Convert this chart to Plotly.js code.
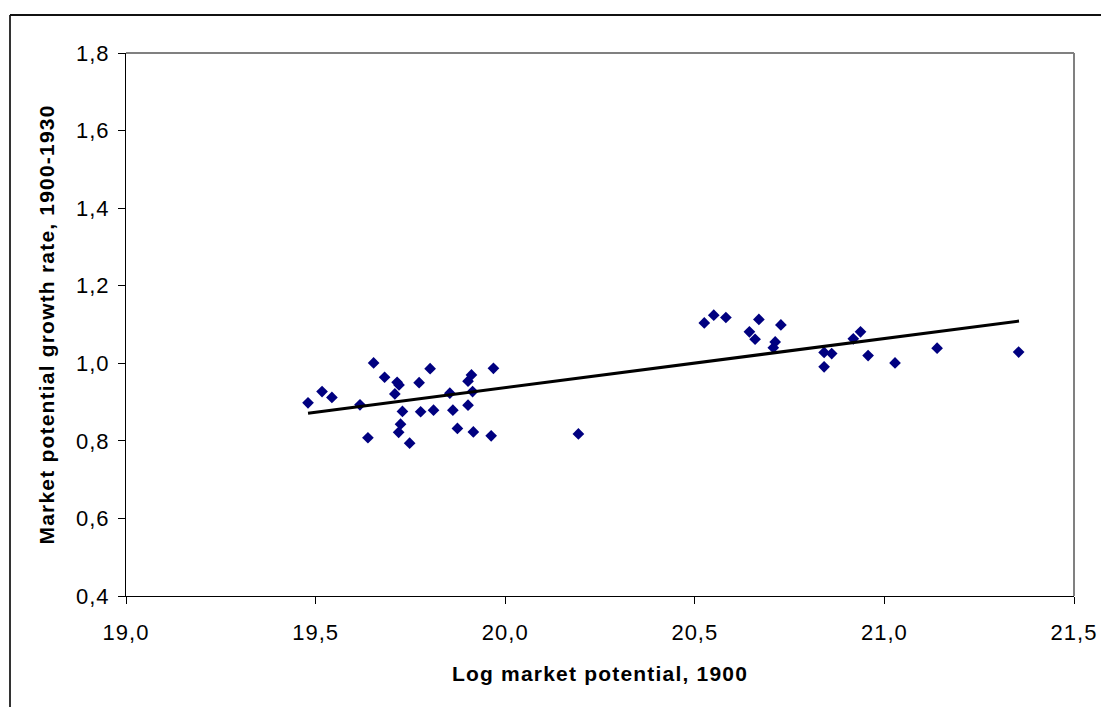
<!DOCTYPE html>
<html>
<head>
<meta charset="utf-8">
<script src="https://cdn.plot.ly/plotly-3.0.1.min.js"></script>
<style>
  html, body { margin: 0; padding: 0; background: #ffffff; }
  #chart { width: 1101px; height: 707px; }
  #chart .xtick text, #chart .ytick text { letter-spacing: 1px; }
  #chart text.xtitle, #chart text.ytitle { letter-spacing: 1.2px; }
</style>
</head>
<body>
<div id="chart"></div>
<script>
// Log market potential, 1900
const logMarketPotential = [
  19.480, 19.517, 19.543, 19.617, 19.653, 19.682, 19.638, 19.715, 19.720, 19.709,
  19.729, 19.724, 19.719, 19.748, 19.773, 19.802, 19.777, 19.811, 19.854, 19.862,
  19.874, 19.902, 19.911, 19.914, 19.902, 19.916, 19.963, 19.969, 20.193, 20.525,
  20.550, 20.582, 20.669, 20.727, 20.644, 20.659, 20.712, 20.707, 20.841, 20.861,
  20.841, 20.918, 20.937, 20.957, 21.028, 21.139, 21.354
];
// Market potential growth rate, 1900-1930
const growthRate = [
  0.898, 0.927, 0.912, 0.893, 1.001, 0.964, 0.808, 0.951, 0.944, 0.921,
  0.876, 0.843, 0.822, 0.794, 0.950, 0.986, 0.875, 0.879, 0.923, 0.879,
  0.832, 0.954, 0.970, 0.927, 0.892, 0.823, 0.813, 0.987, 0.818, 1.104,
  1.124, 1.118, 1.113, 1.099, 1.081, 1.062, 1.055, 1.040, 1.028, 1.025,
  0.991, 1.063, 1.081, 1.020, 1.001, 1.039, 1.029
];
// Linear trend line endpoints
const trendX = [19.480, 21.355];
const trendY = [0.871, 1.109];

const xTickVals = [19.0, 19.5, 20.0, 20.5, 21.0, 21.5];
const yTickVals = [0.4, 0.6, 0.8, 1.0, 1.2, 1.4, 1.6, 1.8];

const xTitle = 'Log market potential, 1900';
const yTitle = 'Market potential growth rate, 1900-1930';

const FONT = 'Liberation Sans, Arial, sans-serif';

const traces = [
  {
    type: 'scatter', mode: 'markers',
    x: logMarketPotential, y: growthRate,
    marker: { symbol: 'diamond', size: 9, color: '#000080', line: { width: 0 } },
    hoverinfo: 'x+y', showlegend: false
  },
  {
    type: 'scatter', mode: 'lines',
    x: trendX, y: trendY,
    line: { color: '#000000', width: 3 },
    hoverinfo: 'skip', showlegend: false
  }
];

const W = 1101, H = 707;
const L = 126, R = 27, T = 53, B = 111;
const pw = W - L - R, ph = H - T - B;
function px2paperX(px) { return (px - L) / pw; }
function py2paperY(py) { return (H - B - py) / ph; }

const layout = {
  width: W, height: H,
  margin: { l: L, r: R, t: T, b: B, pad: 0 },
  paper_bgcolor: '#ffffff', plot_bgcolor: '#ffffff',
  separators: ', ',
  font: { family: FONT, color: '#000000', size: 22 },
  showlegend: false,
  xaxis: {
    range: [19.0, 21.5], tickvals: xTickVals, tickformat: '.1f',
    showgrid: false, zeroline: false,
    showline: true, linecolor: '#000000', linewidth: 1,
    ticks: 'outside', ticklen: 7, tickcolor: '#000000', tickwidth: 1,
    ticklabelstandoff: 10,
    tickfont: { family: FONT, size: 22, color: '#000000' },
    title: { text: xTitle, font: { family: FONT, size: 21, color: '#000000', weight: 'bold' }, standoff: 21 },
    automargin: false
  },
  yaxis: {
    range: [0.4, 1.8], tickvals: yTickVals, tickformat: '.1f',
    showgrid: false, zeroline: false,
    showline: true, linecolor: '#000000', linewidth: 1,
    ticks: 'outside', ticklen: 7, tickcolor: '#000000', tickwidth: 1,
    ticklabelstandoff: 4,
    tickfont: { family: FONT, size: 22, color: '#000000' },
    title: { text: yTitle, font: { family: FONT, size: 21, color: '#000000', weight: 'bold' }, standoff: 18 },
    automargin: false
  },
  shapes: [
    // plot-area border (grey top and right)
    { type: 'line', xref: 'paper', yref: 'paper', x0: 0, x1: 1, y0: 1, y1: 1,
      line: { color: '#808080', width: 2 }, layer: 'below' },
    { type: 'line', xref: 'paper', yref: 'paper', x0: 1, x1: 1, y0: 0, y1: 1,
      line: { color: '#808080', width: 2 }, layer: 'below' },
    // outer chart frame (left and top)
    { type: 'line', xref: 'paper', yref: 'paper',
      x0: px2paperX(10), x1: px2paperX(10), y0: py2paperY(15), y1: py2paperY(720),
      line: { color: '#333333', width: 2 } },
    { type: 'line', xref: 'paper', yref: 'paper',
      x0: px2paperX(10), x1: px2paperX(1110), y0: py2paperY(15), y1: py2paperY(15),
      line: { color: '#111111', width: 2 } }
  ]
};

Plotly.newPlot('chart', traces, layout, { displayModeBar: false, staticPlot: true });
</script>
</body>
</html>
